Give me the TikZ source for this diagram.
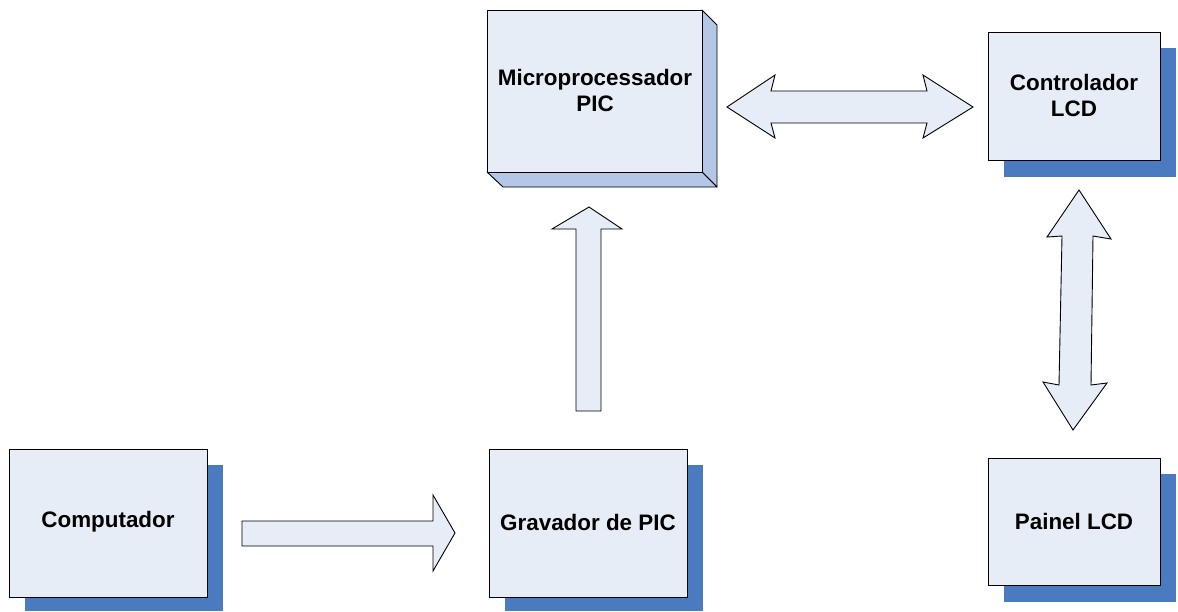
\documentclass[tikz,border=0pt]{standalone}
\usepackage{fontspec}
\setmainfont{Liberation Sans}
\usetikzlibrary{calc}
\definecolor{boxfill}{HTML}{E7EDF7}
\definecolor{shadowblue}{HTML}{4A7BC0}
\definecolor{sideblue}{HTML}{B4C7E7}
\begin{document}
\begin{tikzpicture}[x=1pt,y=-1pt,
  boxstyle/.style={draw=black,line width=0.9pt,fill=boxfill},
  shadowstyle/.style={fill=shadowblue,draw=none},
  sidestyle/.style={draw=black,line width=0.9pt,fill=sideblue,line join=round},
  arrowstyle/.style={draw=black,line width=0.9pt,fill=boxfill,line join=miter},
  lbl/.style={font=\fontsize{22.4}{26}\selectfont\bfseries,align=center,text=black}]
\useasboundingbox (0,0) rectangle (1178,611);
\fill[white] (0,0) rectangle (1178,611);

% Computador
\fill[shadowstyle] (25,465) rectangle (223,611);
\draw[boxstyle] (9,449) rectangle (207,597);
\node[lbl] (comp) at (108,522) {Computador};

% Gravador de PIC
\fill[shadowstyle] (505,465) rectangle (703,611);
\draw[boxstyle] (489,449) rectangle (687,597);
\node[lbl] (grav) at (588,522) {Gravador de PIC};

% Controlador LCD
\fill[shadowstyle] (1004,48) rectangle (1176,177);
\draw[boxstyle] (988,32) rectangle (1160,160);
\node[lbl] (ctrl) at (1074,95) {Controlador\\LCD};

% Painel LCD
\fill[shadowstyle] (1004,474) rectangle (1176,602);
\draw[boxstyle] (988,458) rectangle (1160,585);
\node[lbl] (painel) at (1074,521) {Painel LCD};

% Microprocessador PIC (3D box)
\draw[sidestyle] (702,10) -- (717,25) -- (717,187) -- (702,172) -- cycle;
\draw[sidestyle] (487,172) -- (702,172) -- (717,187) -- (503,187) -- cycle;
\draw[boxstyle] (487,10) rectangle (702,172);
\node[lbl] (micro) at (595,90) {Microprocessador\\PIC};

% Arrow Computador -> Gravador
\draw[arrowstyle] (242,521) -- (433,521) -- (433,495) -- (455,533) -- (433,571)
  -- (433,546) -- (242,546) -- cycle;

% Arrow Gravador -> Micro (up)
\draw[arrowstyle] (576,411) -- (576,229) -- (552,229) -- (589,207) -- (622,229)
  -- (601,229) -- (601,411) -- cycle;

% Double arrow Micro <-> Controlador
\draw[arrowstyle] (727,107) -- (775,75) -- (771,91) -- (927,91) -- (923,75)
  -- (973,107) -- (923,138) -- (927,123) -- (771,123) -- (775,138) -- cycle;

% Double arrow Controlador <-> Painel
\draw[arrowstyle] (1079,190) -- (1111,239) -- (1093,236) -- (1091,385)
  -- (1107,383) -- (1073,430) -- (1043,382) -- (1059,385) -- (1062,236)
  -- (1047,237) -- cycle;
\end{tikzpicture}
\end{document}
